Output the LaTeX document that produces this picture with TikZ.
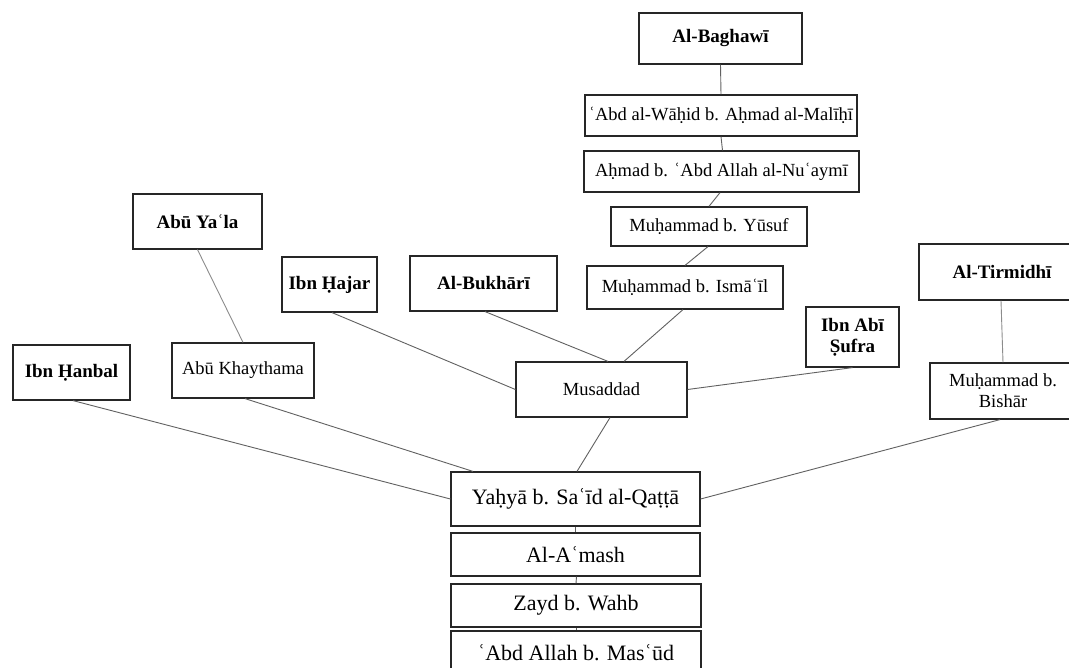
\documentclass[tikz,border=0pt]{standalone}
\usepackage{fontspec}
\setmainfont{Liberation Serif}
\begin{document}
\begin{tikzpicture}[x=1pt,y=-1pt,
  box/.style={draw=black!85, line width=1.2pt, rectangle, inner sep=0pt,
    align=center, font=\fontsize{18.5}{21}\selectfont},
  namebox/.style={box, font=\fontsize{19}{21}\selectfont\bfseries},
  bigbox/.style={box, font=\fontsize{22}{24}\selectfont},
  link/.style={draw=black!62, line width=0.9pt},
  lightlink/.style={draw=black!45, line width=0.9pt}]
\useasboundingbox (0,0) rectangle (1069,668);
\fill[white] (0,0) rectangle (1069,668);

% chain through Musaddad
\node[namebox, minimum width=163pt, minimum height=51pt] (bagh) at (720.5,38.5) {Al-Baghawī};
\node[box, minimum width=272pt, minimum height=41pt] (wahid) at (721,115.5) {ʿAbd al-Wāḥid b. Aḥmad al-Malīḥī};
\node[box, minimum width=275pt, minimum height=41pt] (ahmad) at (721.5,171.5) {Aḥmad b. ʿAbd Allah al-Nuʿaymī};
\node[box, minimum width=196pt, minimum height=39pt] (yusuf) at (709,226.5) {Muḥammad b. Yūsuf};
\node[box, minimum width=196pt, minimum height=43pt] (ismail) at (685,287.5) {Muḥammad b. Ismāʿīl};

% upper row of compilers
\node[namebox, minimum width=129pt, minimum height=55pt] (abuyala) at (197.5,221.5) {Abū Yaʿla};
\node[namebox, minimum width=95pt, minimum height=55pt] (hajar) at (329.5,284.5) {Ibn Ḥajar};
\node[namebox, minimum width=147pt, minimum height=55pt] (bukhari) at (483.5,283.5) {Al-Bukhārī};
\node[namebox, minimum width=93pt, minimum height=60pt] (sufra) at (852.5,337) {Ibn Abī\\Ṣufra};
\node[namebox, minimum width=166pt, minimum height=56pt] (tirmidhi) at (1002,272) {Al-Tirmidhī};

% middle row
\node[namebox, minimum width=117pt, minimum height=55pt] (hanbal) at (71.5,372.5) {Ibn Ḥanbal};
\node[box, minimum width=142pt, minimum height=55pt] (khaythama) at (243,370.5) {Abū Khaythama};
\node[box, minimum width=171pt, minimum height=55pt] (musaddad) at (601.5,389.5) {Musaddad};
\node[box, minimum width=146pt, minimum height=56pt] (bishar) at (1003,391) {Muḥammad b.\\Bishār};

% common link and below
\node[bigbox, minimum width=249pt, minimum height=54pt] (yahya) at (575.5,499) {Yaḥyā b. Saʿīd al-Qaṭṭā};
\node[bigbox, minimum width=249pt, minimum height=43pt] (amash) at (575.5,554.5) {Al-Aʿmash};
\node[bigbox, minimum width=250pt, minimum height=43pt] (zayd) at (576,605.5) {Zayd b. Wahb};
\node[bigbox, minimum width=250pt, minimum height=43pt] (abdallah) at (576,652.5) {ʿAbd Allah b. Masʿūd};

% connectors
\draw[link] (bagh.south) -- (wahid.north);
\draw[link] (wahid.south) -- ([xshift=1pt]ahmad.north);
\draw[link] ([xshift=-1.5pt]ahmad.south) -- (yusuf.north);
\draw[link] ([xshift=-1pt]yusuf.south) -- (ismail.north);
\draw[link] ([xshift=-2pt]ismail.south) -- ([xshift=22.5pt]musaddad.north);
\draw[link] ([xshift=1.5pt]bukhari.south) -- ([xshift=6.5pt]musaddad.north);
\draw[link] ([xshift=2.5pt]hajar.south) -- (musaddad.west);
\draw[link] (sufra.south) -- (musaddad.east);
\draw[lightlink] (abuyala.south) -- (khaythama.north);
\draw[link] ([xshift=2pt]khaythama.south) -- ([xshift=-102.5pt]yahya.north);
\draw[link] ([xshift=1.5pt]hanbal.south) -- (yahya.west);
\draw[link] ([xshift=8.5pt]musaddad.south) -- ([xshift=1.5pt]yahya.north);
\draw[lightlink] ([xshift=-1pt]tirmidhi.south) -- (bishar.north);
\draw[link] ([xshift=-3pt]bishar.south) -- (yahya.east);
\draw[link] (yahya.south) -- (amash.north);
\draw[link] ([xshift=1pt]amash.south) -- (zayd.north);
\draw[link] (zayd.south) -- (abdallah.north);
\end{tikzpicture}
\end{document}
